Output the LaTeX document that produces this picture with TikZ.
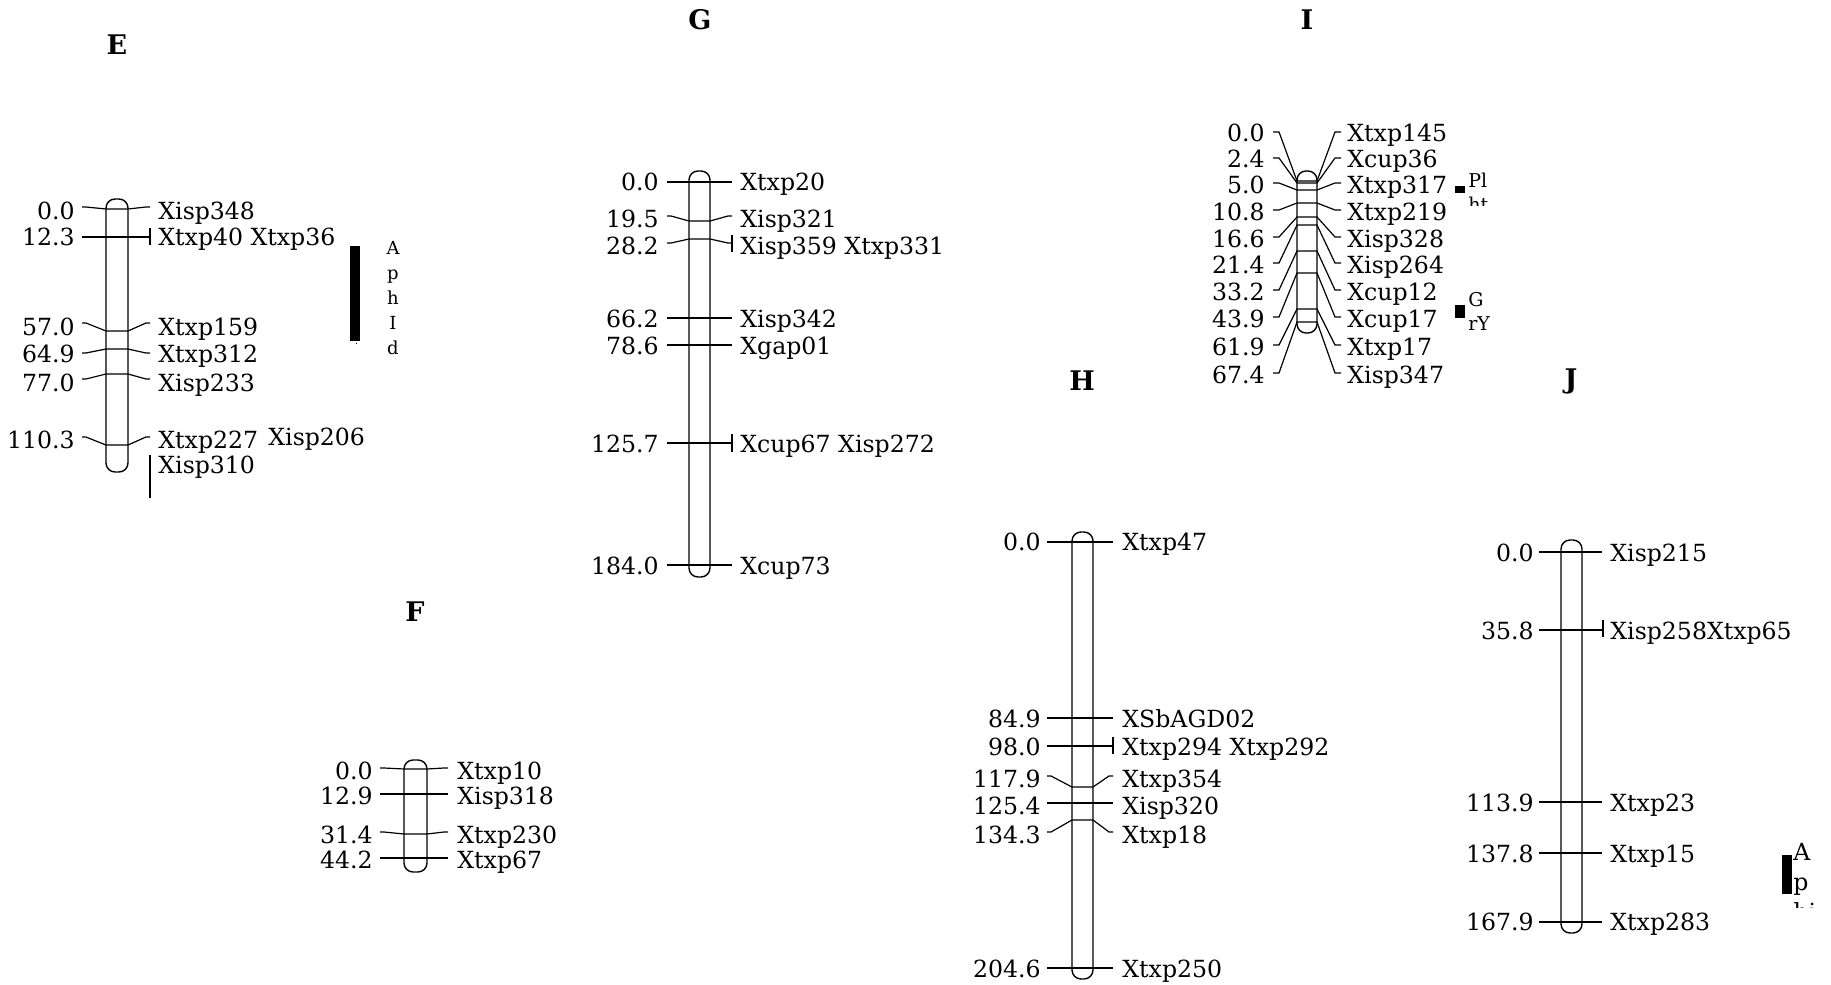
\documentclass[tikz,border=0pt]{standalone}
\usepackage{fontspec}
\setmainfont{DejaVu Serif}
\usetikzlibrary{positioning}

\begin{document}
\begin{tikzpicture}[
    x=0.5pt, y=-0.5pt,
    every node/.style={font=\fontsize{11.8pt}{14pt}\selectfont},
    chrom/.style={draw, line width=0.7pt, rounded corners=4.5pt},
    mk/.style={line width=0.6pt},
    num/.style={anchor=east, inner sep=0pt, text height=8.6pt, text depth=0pt},
    lab/.style={anchor=west, inner sep=0pt, text height=8.6pt, text depth=0pt},
    title/.style={font=\fontsize{13.5pt}{16pt}\selectfont\bfseries},
    qtl/.style={fill=black},
    qtllab/.style={font=\fontsize{9pt}{12.5pt}\selectfont, align=center, inner sep=0pt},
    qtlside/.style={anchor=base west, inner sep=0pt}
]
\useasboundingbox (0,0) rectangle (1831,985);

% Linkage group E
\node[title] (tE) at (117,45) {E};
\draw[chrom] (106,199) rectangle (128,472);
\draw[mk] (82,207) -- (86,207) -- (106,209) -- (128,209) -- (146,207) -- (150,207);
\draw[mk] (82,237) -- (150,237);
\draw[mk] (150,228) -- (150,245);
\draw[mk] (82,323) -- (86,323) -- (106,331) -- (128,331) -- (146,323) -- (150,323);
\draw[mk] (82,353) -- (86,353) -- (106,349) -- (128,349) -- (146,353) -- (150,353);
\draw[mk] (82,379) -- (86,379) -- (106,374) -- (128,374) -- (146,379) -- (150,379);
\draw[mk] (82,437) -- (86,437) -- (106,445) -- (128,445) -- (146,437) -- (150,437);
\draw[mk] (150,455) -- (150,498);
\node[num] (e1n) at (75,211) {0.0};
\node[lab] (e1m) at (158,211) {Xisp348};
\node[num] (e2n) at (75,237) {12.3};
\node[lab] (e2m) at (158,237) {Xtxp40 Xtxp36};
\node[num] (e3n) at (75,327) {57.0};
\node[lab] (e3m) at (158,327) {Xtxp159};
\node[num] (e4n) at (75,354) {64.9};
\node[lab] (e4m) at (158,354) {Xtxp312};
\node[num] (e5n) at (75,383) {77.0};
\node[lab] (e5m) at (158,383) {Xisp233};
\node[num] (e6n) at (75,440) {110.3};
\node[lab] (e6m) at (158,440) {Xtxp227};
\node[lab] (e6b) at (268,437) {Xisp206};
\node[lab] (e7m) at (158,465) {Xisp310};
\fill[qtl] (350,246) rectangle (360,341);
\fill[qtl] (355.5,342.5) rectangle (357,344);
\node[qtllab] (eAphid) at (393,298) {A\\p\\h\\I\\d};

% Linkage group F
\node[title] (tF) at (415,612) {F};
\draw[chrom] (404,760) rectangle (427,872);
\draw[mk] (380,768) -- (384,768) -- (404,769) -- (427,769) -- (444,768) -- (448,768);
\draw[mk] (380,794) -- (448,794);
\draw[mk] (380,832) -- (384,832) -- (404,834) -- (427,834) -- (444,832) -- (448,832);
\draw[mk] (380,858) -- (448,858);
\node[num] (f1n) at (373,771) {0.0};
\node[lab] (f1m) at (457,771) {Xtxp10};
\node[num] (f2n) at (373,796) {12.9};
\node[lab] (f2m) at (457,796) {Xisp318};
\node[num] (f3n) at (373,835) {31.4};
\node[lab] (f3m) at (457,835) {Xtxp230};
\node[num] (f4n) at (373,860) {44.2};
\node[lab] (f4m) at (457,860) {Xtxp67};

% Linkage group G
\node[title] (tG) at (700,20) {G};
\draw[chrom] (689,171) rectangle (710,577);
\draw[mk] (667,182) -- (732,182);
\draw[mk] (667,216) -- (671,216) -- (689,221) -- (710,221) -- (728,216) -- (732,216);
\draw[mk] (667,243) -- (671,243) -- (689,239) -- (710,239) -- (728,243) -- (732,243);
\draw[mk] (732,235) -- (732,252);
\draw[mk] (667,318) -- (732,318);
\draw[mk] (667,345) -- (732,345);
\draw[mk] (667,443) -- (732,443);
\draw[mk] (732,434) -- (732,452);
\draw[mk] (667,565) -- (732,565);
\node[num] (g1n) at (659,182) {0.0};
\node[lab] (g1m) at (740,182) {Xtxp20};
\node[num] (g2n) at (659,219) {19.5};
\node[lab] (g2m) at (740,219) {Xisp321};
\node[num] (g3n) at (659,246) {28.2};
\node[lab] (g3m) at (740,246) {Xisp359 Xtxp331};
\node[num] (g4n) at (659,319) {66.2};
\node[lab] (g4m) at (740,319) {Xisp342};
\node[num] (g5n) at (659,346) {78.6};
\node[lab] (g5m) at (740,346) {Xgap01};
\node[num] (g6n) at (659,444) {125.7};
\node[lab] (g6m) at (740,444) {Xcup67 Xisp272};
\node[num] (g7n) at (659,566) {184.0};
\node[lab] (g7m) at (740,566) {Xcup73};

% Linkage group H
\node[title] (tH) at (1082,381) {H};
\draw[chrom] (1072,532) rectangle (1093,979);
\draw[mk] (1047,542) -- (1113,542);
\draw[mk] (1047,718) -- (1113,718);
\draw[mk] (1047,746) -- (1113,746);
\draw[mk] (1113,737) -- (1113,754);
\draw[mk] (1047,776) -- (1051,776) -- (1072,787) -- (1093,787) -- (1109,776) -- (1113,776);
\draw[mk] (1047,803) -- (1113,803);
\draw[mk] (1047,832) -- (1051,832) -- (1072,820) -- (1093,820) -- (1109,832) -- (1113,832);
\draw[mk] (1047,968) -- (1113,968);
\node[num] (h1n) at (1041,542) {0.0};
\node[lab] (h1m) at (1122,542) {Xtxp47};
\node[num] (h2n) at (1041,719) {84.9};
\node[lab] (h2m) at (1122,719) {XSbAGD02};
\node[num] (h3n) at (1041,747) {98.0};
\node[lab] (h3m) at (1122,747) {Xtxp294 Xtxp292};
\node[num] (h4n) at (1041,779) {117.9};
\node[lab] (h4m) at (1122,779) {Xtxp354};
\node[num] (h5n) at (1041,806) {125.4};
\node[lab] (h5m) at (1122,806) {Xisp320};
\node[num] (h6n) at (1041,835) {134.3};
\node[lab] (h6m) at (1122,835) {Xtxp18};
\node[num] (h7n) at (1041,969) {204.6};
\node[lab] (h7m) at (1122,969) {Xtxp250};

% Linkage group I
\node[title] (tI) at (1307,20) {I};
\draw[chrom] (1297,171) rectangle (1317,333);
\draw[mk] (1273,132) -- (1279,132) -- (1297,181) -- (1317,181) -- (1335,132) -- (1341,132);
\draw[mk] (1273,158) -- (1279,158) -- (1297,183) -- (1317,183) -- (1335,158) -- (1341,158);
\draw[mk] (1273,183) -- (1279,183) -- (1297,190) -- (1317,190) -- (1335,183) -- (1341,183);
\draw[mk] (1273,210) -- (1279,210) -- (1297,203) -- (1317,203) -- (1335,210) -- (1341,210);
\draw[mk] (1273,237) -- (1279,237) -- (1297,217) -- (1317,217) -- (1335,237) -- (1341,237);
\draw[mk] (1273,263) -- (1279,263) -- (1297,225) -- (1317,225) -- (1335,263) -- (1341,263);
\draw[mk] (1273,290) -- (1279,290) -- (1297,251) -- (1317,251) -- (1335,290) -- (1341,290);
\draw[mk] (1273,317) -- (1279,317) -- (1297,273) -- (1317,273) -- (1335,317) -- (1341,317);
\draw[mk] (1273,345) -- (1279,345) -- (1297,309) -- (1317,309) -- (1335,345) -- (1341,345);
\draw[mk] (1273,373) -- (1279,373) -- (1297,322) -- (1317,322) -- (1335,373) -- (1341,373);
\node[num] (i1n) at (1265,133) {0.0};
\node[lab] (i1m) at (1347,133) {Xtxp145};
\node[num] (i2n) at (1265,159) {2.4};
\node[lab] (i2m) at (1347,159) {Xcup36};
\node[num] (i3n) at (1265,185) {5.0};
\node[lab] (i3m) at (1347,185) {Xtxp317};
\node[num] (i4n) at (1265,212) {10.8};
\node[lab] (i4m) at (1347,212) {Xtxp219};
\node[num] (i5n) at (1265,239) {16.6};
\node[lab] (i5m) at (1347,239) {Xisp328};
\node[num] (i6n) at (1265,265) {21.4};
\node[lab] (i6m) at (1347,265) {Xisp264};
\node[num] (i7n) at (1265,292) {33.2};
\node[lab] (i7m) at (1347,292) {Xcup12};
\node[num] (i8n) at (1265,319) {43.9};
\node[lab] (i8m) at (1347,319) {Xcup17};
\node[num] (i9n) at (1265,347) {61.9};
\node[lab] (i9m) at (1347,347) {Xtxp17};
\node[num] (i10n) at (1265,375) {67.4};
\node[lab] (i10m) at (1347,375) {Xisp347};
\fill[qtl] (1455,186) rectangle (1465,193);
\node[qtlside, font=\fontsize{9.5pt}{12pt}\selectfont] (iPl) at (1468,187) {Pl};
\begin{scope}
  \clip (1460,195) rectangle (1520,205);
  \node[qtlside, font=\fontsize{9.5pt}{12pt}\selectfont] (iht) at (1468,211) {ht};
\end{scope}
\fill[qtl] (1455,305) rectangle (1465,318);
\node[qtlside, font=\fontsize{9.5pt}{12pt}\selectfont] (iG) at (1468,306) {G};
\node[qtlside, font=\fontsize{9.5pt}{12pt}\selectfont] (irY) at (1468,330) {rY};

% Linkage group J
\node[title] (tJ) at (1571,381) {J};
\draw[chrom] (1561,540) rectangle (1582,933);
\draw[mk] (1539,552) -- (1602,552);
\draw[mk] (1539,630) -- (1603,630);
\draw[mk] (1603,620) -- (1603,637);
\draw[mk] (1539,802) -- (1602,802);
\draw[mk] (1539,853) -- (1602,853);
\draw[mk] (1539,922) -- (1602,922);
\node[num] (j1n) at (1534,553) {0.0};
\node[lab] (j1m) at (1610,553) {Xisp215};
\node[num] (j2n) at (1534,631) {35.8};
\node[lab] (j2m) at (1610,631) {Xisp258Xtxp65};
\node[num] (j3n) at (1534,803) {113.9};
\node[lab] (j3m) at (1610,803) {Xtxp23};
\node[num] (j4n) at (1534,854) {137.8};
\node[lab] (j4m) at (1610,854) {Xtxp15};
\node[num] (j5n) at (1534,922) {167.9};
\node[lab] (j5m) at (1610,922) {Xtxp283};
\fill[qtl] (1782,855) rectangle (1792,894);
\node[qtlside] (jA) at (1793,860) {A};
\node[qtlside] (jp) at (1793,890) {p};
\begin{scope}
  \clip (1785,895) rectangle (1831,907);
  \node[qtlside] (jhi) at (1793,920) {hi};
\end{scope}

\end{tikzpicture}
\end{document}
